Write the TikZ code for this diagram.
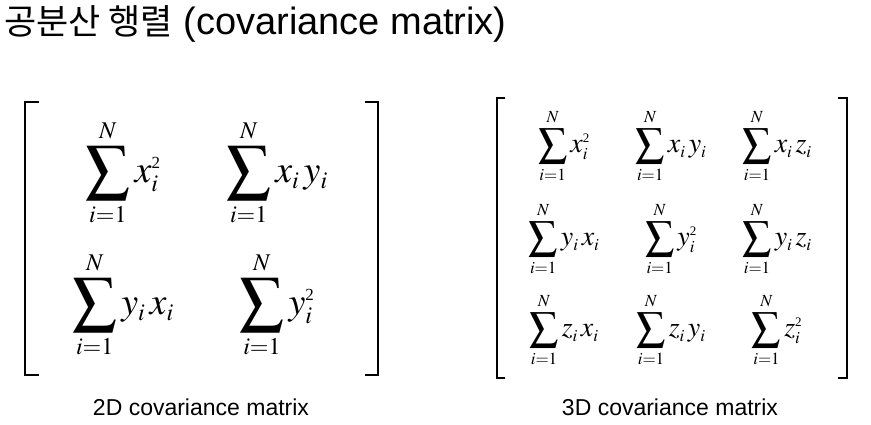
\documentclass[tikz,border=0pt]{standalone}
\usepackage{mathptmx}
\usepackage[no-math]{fontspec}
\setmainfont{Liberation Sans}
\newfontfamily\kofont{Noto Sans CJK KR}
\newfontfamily\tmfont{Liberation Serif}
\DeclareMathSizes{38}{38}{24}{18}
\DeclareMathSizes{28}{28}{17}{13}
\newcommand{\bigsum}[1]{\mathop{\vcenter{\hbox{\scalebox{#1}{$\displaystyle\sum$}}}}\limits_{i=1}^{N}}
\newcommand{\sq}[1]{^{\hbox{\tmfont\fontsize{#1}{#1}\selectfont 2}}}
\begin{document}
\begin{tikzpicture}[x=1pt,y=1pt,yscale=-1,xscale=1,
  bigent/.style={inner sep=0pt,font=\fontsize{38}{44}\selectfont},
  smallent/.style={inner sep=0pt,font=\fontsize{28}{32}\selectfont},
  caption/.style={anchor=base,inner sep=0pt,font=\fontsize{23}{28}\selectfont},
  brk/.style={line width=2.5pt}]
\useasboundingbox (0,0) rectangle (871,425);
\node [anchor=base west,inner sep=0pt,font=\fontsize{38}{44}\selectfont] (title) at (4,35) {{\kofont\fontsize{35}{40}\selectfont 공분산 행렬} (covariance matrix)};
% 2D matrix
\draw [brk] (39,102) -- (25,102) -- (25,375) -- (39,375) ;
\draw [brk] (365,102) -- (378,102) -- (378,375) -- (365,375) ;
\node [bigent] (a11) at (123,173) {$\bigsum{1.15} x_i\sq{17}$};
\node [bigent] (a12) at (277,173) {$\bigsum{1.15} x_i\,y_i$};
\node [bigent] (a21) at (123,305) {$\bigsum{1.15} y_i\,x_i$};
\node [bigent] (a22) at (277,305) {$\bigsum{1.15} y_i\sq{17}$};
\node [caption] (cap2) at (201,415) {2D covariance matrix};
% 3D matrix
\draw [brk,line width=2pt] (505,98) -- (497,98) -- (497,378) -- (505,378) ;
\draw [brk,line width=2pt] (838,98) -- (847,98) -- (847,378) -- (838,378) ;
\node [smallent] (b11) at (564,146) {$\bigsum{1.02} x_i\sq{13}$};
\node [smallent] (b12) at (671,146) {$\bigsum{1.02} x_i\,y_i$};
\node [smallent] (b13) at (777,146) {$\bigsum{1.02} x_i\,z_i$};
\node [smallent] (b21) at (564,239) {$\bigsum{1.02} y_i\,x_i$};
\node [smallent] (b22) at (671,239) {$\bigsum{1.02} y_i\sq{13}$};
\node [smallent] (b23) at (777,239) {$\bigsum{1.02} y_i\,z_i$};
\node [smallent] (b31) at (564,330) {$\bigsum{1.02} z_i\,x_i$};
\node [smallent] (b32) at (671,330) {$\bigsum{1.02} z_i\,y_i$};
\node [smallent] (b33) at (777,330) {$\bigsum{1.02} z_i\sq{13}$};
\node [caption] (cap3) at (670,415) {3D covariance matrix};
\end{tikzpicture}
\end{document}
